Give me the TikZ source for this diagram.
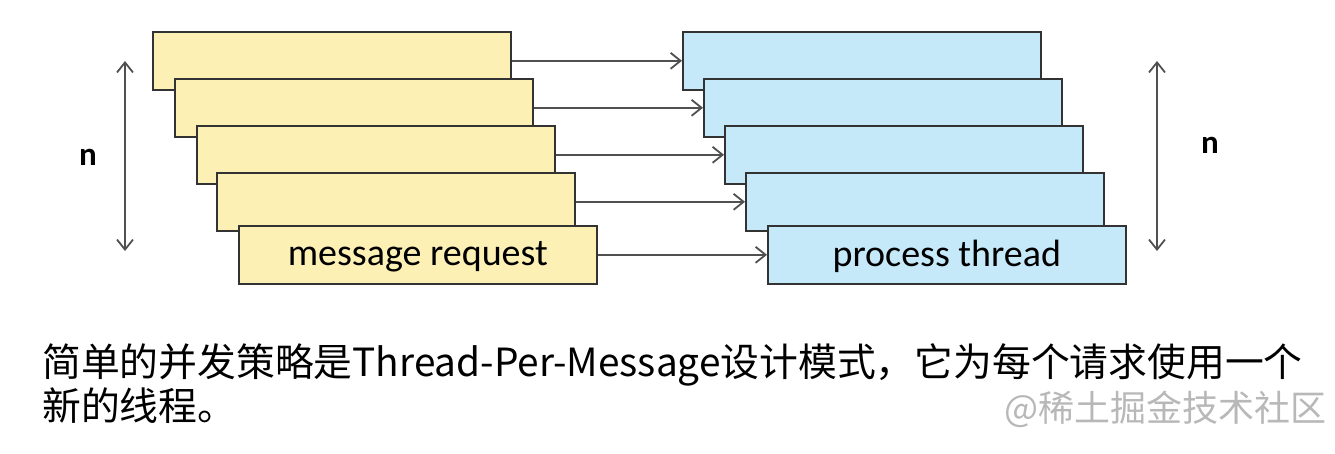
\documentclass[tikz,border=0pt]{standalone}
\usepackage{fontspec}
\setmainfont{Carlito}
\newfontfamily\cjk{Noto Sans CJK SC}
\usetikzlibrary{arrows.meta}
\definecolor{reqyellow}{HTML}{FDF0B4}
\definecolor{thrblue}{HTML}{C6E9FA}
\definecolor{linegray}{HTML}{505050}

\begin{document}
\begin{tikzpicture}[
    x=1pt,
    y=-1pt,
    box/.style={
        rectangle,
        draw=black!80,
        fill=#1,
        line width=1.6pt,
        minimum width=358pt,
        minimum height=58pt,
        inner sep=0pt,
        anchor=north west,
        font=\fontsize{38}{40}\selectfont
    },
    flowarrow/.style={-{Straight Barb[length=10pt,width=16pt]}, line width=1.8pt, draw=linegray},
    spanarrow/.style={{Straight Barb[length=10pt,width=16pt]}-{Straight Barb[length=10pt,width=16pt]}, line width=1.8pt, draw=linegray}
]
\useasboundingbox (0,0) rectangle (1335,453);

\node[box=reqyellow] (r1) at (152,31) {};
\node[box=reqyellow] (r2) at (174,78) {};
\node[box=reqyellow] (r3) at (196,125) {};
\node[box=reqyellow] (r4) at (216,172) {};
\node[box=reqyellow, text depth=3pt] (r5) at (238,225) {message request};

\node[box=thrblue] (t1) at (682,31) {};
\node[box=thrblue] (t2) at (703,78) {};
\node[box=thrblue] (t3) at (724,125) {};
\node[box=thrblue] (t4) at (745,172) {};
\node[box=thrblue, text depth=3pt] (t5) at (767,225) {process thread};

\foreach \i in {1,...,5}
    \draw[flowarrow] (r\i.east) -- (t\i.west);

\coordinate (lefttop) at (125,61);
\coordinate (leftbot) at (125,251);
\coordinate (righttop) at (1157,61);
\coordinate (rightbot) at (1157,251);
\draw[spanarrow] (lefttop) -- (leftbot);
\draw[spanarrow] (righttop) -- (rightbot);

\node[font=\bfseries\fontsize{33}{33}\selectfont] (nleft) at (88,157) {n};
\node[font=\bfseries\fontsize{33}{33}\selectfont] (nright) at (1210,145) {n};

\node[anchor=north west, align=left, inner sep=0pt, font=\cjk\fontsize{38.8}{44}\selectfont] (caption) at (42,343)
    {简单的并发策略是Thread-Per-Message设计模式，它为每个请求使用一个\\新的线程。};

\node[anchor=east, inner sep=0pt, text=black!28, font=\cjk\fontsize{36}{36}\selectfont] (mark) at (1327,409) {@稀土掘金技术社区};

\end{tikzpicture}
\end{document}
